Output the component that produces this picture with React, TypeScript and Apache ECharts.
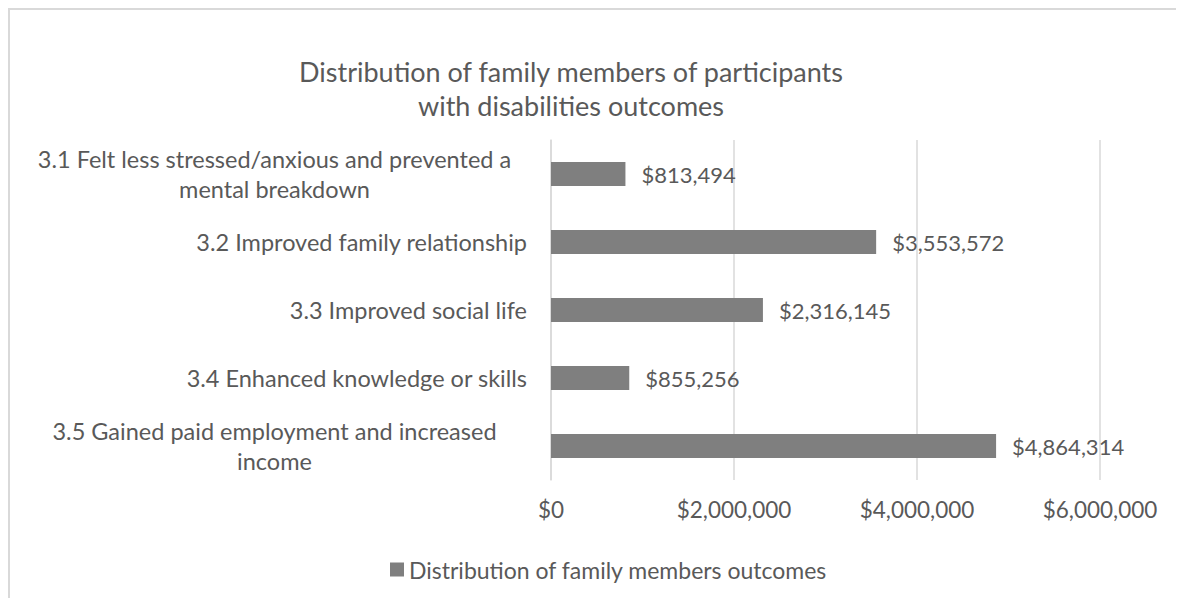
import React, { useEffect, useRef } from "react";
import * as echarts from "echarts";

const FONT = "Lato";

const titleLines = [
  "Distribution of family members of participants",
  "with disabilities outcomes",
];
const categories = [
  "3.1 Felt less stressed/anxious and prevented a\nmental breakdown",
  "3.2 Improved family relationship",
  "3.3 Improved social life",
  "3.4 Enhanced knowledge or skills",
  "3.5 Gained paid employment and increased\nincome",
];
const values = [813494, 3553572, 2316145, 855256, 4864314];
const seriesName = "Distribution of family members outcomes";
const xMin = 0;
const xMax = 6000000;
const xInterval = 2000000;

const fmt = (v: number) => "$" + Math.round(v).toLocaleString("en-US");

const W = 1200;
const H = 600;

export default function App() {
  const ref = useRef<HTMLDivElement>(null);
  useEffect(() => {
    if (!ref.current) return;
    document.documentElement.style.overflow = "hidden";
    document.body.style.overflow = "hidden";
    const chart = echarts.init(ref.current, undefined, { renderer: "svg" });
    const textColor = "#595959";
    const catSize = 23.5;
    chart.setOption({
      animation: false,
      backgroundColor: "#ffffff",
      textStyle: { fontFamily: FONT },
      title: {
        text: titleLines.join("\n"),
        left: 558,
        top: 41,
        textAlign: "center",
        textStyle: {
          fontFamily: FONT,
          fontSize: 27,
          fontWeight: "normal",
          color: textColor,
          lineHeight: 34,
        },
      },
      grid: { left: 543, width: 549, top: 132, height: 340, containLabel: false },
      xAxis: {
        type: "value",
        min: xMin,
        max: xMax,
        interval: xInterval,
        axisLine: { show: false },
        axisTick: { show: false },
        splitLine: { lineStyle: { color: "#d9d9d9", width: 1.5 } },
        axisLabel: {
          formatter: (v: number) => fmt(v),
          fontFamily: FONT,
          fontSize: 22.5,
          color: textColor,
          margin: 18,
        },
      },
      yAxis: {
        type: "category",
        data: categories,
        inverse: true,
        axisLine: { show: true, lineStyle: { color: "#d9d9d9", width: 1.5 } },
        axisTick: { show: false },
        splitLine: { show: false },
        axisLabel: {
          margin: 24,
          align: "right",
          fontFamily: FONT,
          fontSize: catSize,
          color: textColor,
          lineHeight: 30,
          formatter: (v: string) => {
            const lines = v.split("\n");
            if (lines.length === 1) return v;
            return lines.map((l) => `{w|${l}}`).join("\n");
          },
          rich: {
            w: {
              width: 505,
              align: "center",
              fontFamily: FONT,
              fontSize: catSize,
              color: textColor,
              lineHeight: 30,
            },
          },
        },
      },
      legend: {
        left: 377,
        top: 545,
        icon: "rect",
        itemWidth: 14,
        itemHeight: 14,
        itemGap: 10,
        textStyle: { fontFamily: FONT, fontSize: 23, color: textColor },
        data: [seriesName],
      },
      series: [
        {
          type: "bar",
          name: seriesName,
          data: values,
          barWidth: 24,
          itemStyle: { color: "#7f7f7f" },
          label: {
            show: true,
            position: "right",
            distance: 16,
            formatter: (p: any) => fmt(p.value),
            fontFamily: FONT,
            fontSize: 22,
            color: textColor,
          },
        },
      ],
      graphic: [
        {
          type: "line",
          shape: { x1: 0, y1: 1, x2: W, y2: 1 },
          style: { stroke: "#d9d9d9", lineWidth: 2 },
          silent: true,
        },
        {
          type: "line",
          shape: { x1: 1, y1: 0, x2: 1, y2: H },
          style: { stroke: "#d9d9d9", lineWidth: 2 },
          silent: true,
        },
      ],
    });
    return () => chart.dispose();
  }, []);
  return <div ref={ref} style={{ width: W, height: H }} />;
}
